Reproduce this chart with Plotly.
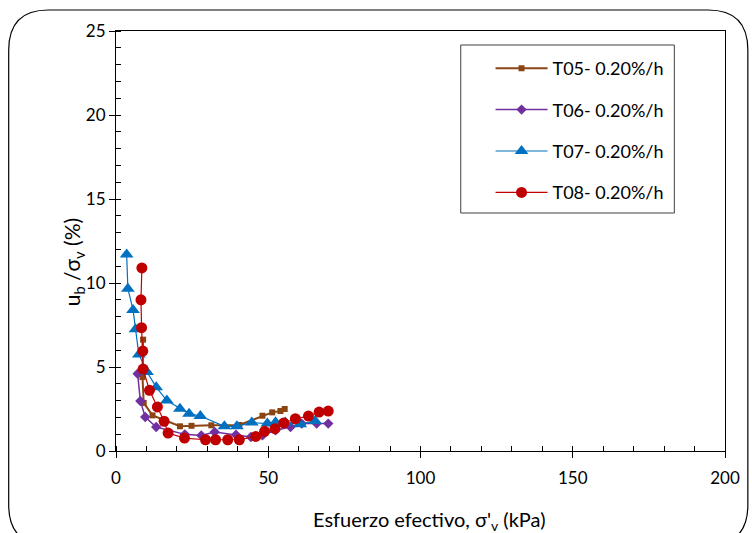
import plotly.graph_objects as go

# ---- data ----
t05_x = [8.9, 8.7, 9.1, 12.0, 21.0, 24.8, 31.3, 40.5, 48.1, 51.3, 54.0, 55.4]
t05_y = [6.63, 4.4, 2.86, 2.12, 1.47, 1.5, 1.53, 1.55, 2.1, 2.3, 2.38, 2.5]

t06_x = [7.1, 8.0, 9.6, 13.2, 22.6, 28.0, 32.4, 39.4, 44.3, 48.1, 52.4, 57.3, 61.0, 65.9, 69.7]
t06_y = [4.6, 2.98, 2.02, 1.43, 0.99, 0.93, 1.13, 0.97, 0.83, 0.93, 1.23, 1.43, 1.63, 1.63, 1.63]

t07_x = [3.5, 3.9, 5.6, 6.4, 7.5, 10.2, 13.2, 16.7, 21.0, 24.0, 27.7, 35.6, 39.7, 44.6, 49.7, 52.4, 55.6, 60.5, 65.4]
t07_y = [11.7, 9.66, 8.4, 7.24, 5.75, 4.7, 3.8, 3.0, 2.52, 2.22, 2.08, 1.47, 1.47, 1.69, 1.63, 1.71, 1.69, 1.59, 1.79]

t08_x = [8.5, 8.2, 8.4, 8.8, 8.9, 11.0, 13.6, 15.8, 17.1, 22.5, 29.4, 32.7, 36.7, 40.5, 45.9, 48.8, 52.2, 55.1, 58.9, 63.2, 66.7, 69.7]
t08_y = [10.9, 9.0, 7.34, 5.95, 4.88, 3.61, 2.62, 1.77, 1.07, 0.77, 0.67, 0.67, 0.67, 0.67, 0.87, 1.17, 1.33, 1.67, 1.92, 2.08, 2.32, 2.38]

names = ["T05- 0.20%/h", "T06- 0.20%/h", "T07- 0.20%/h", "T08- 0.20%/h"]
x_title = "Esfuerzo efectivo, σ'<sub>v</sub> (kPa)"
y_title = "u<sub>b</sub> /σ<sub>v</sub> (%)"

FONT = "Lato"

fig = go.Figure()
fig.add_trace(go.Scatter(x=t05_x, y=t05_y, name=names[0], mode="lines+markers", legendgroup="a",
                         line=dict(color="#8B4513", width=2),
                         marker=dict(symbol="square", size=6, color="#8B4513")))
fig.add_trace(go.Scatter(x=t06_x, y=t06_y, name=names[1], mode="lines+markers", legendgroup="b",
                         line=dict(color="#7030A0", width=1.5),
                         marker=dict(symbol="diamond", size=8, color="#7030A0")))
fig.add_trace(go.Scatter(x=t07_x, y=t07_y, name=names[2], mode="lines+markers", legendgroup="c",
                         line=dict(color="#0070C0", width=1.2),
                         marker=dict(symbol="triangle-up", size=12, color="#0070C0")))
fig.add_trace(go.Scatter(x=t08_x, y=t08_y, name=names[3], mode="lines+markers", legendgroup="d",
                         line=dict(color="#C00000", width=1.2),
                         marker=dict(symbol="circle", size=11, color="#C00000")))

L, R, T, B = 116, 23, 31, 82
W, H = 752, 533
pw, ph = W - L - R, H - T - B

def px(x):
    return (x - L) / pw

def py(y):
    return (H - B - y) / ph

# rounded outer border
x0, x1, y0, y1, r = 8, 752, 10, 545, 40
path = (f"M {px(x0)},{py(y0 + r)} Q {px(x0)},{py(y0)} {px(x0 + r)},{py(y0)} "
        f"L {px(x1 - r)},{py(y0)} Q {px(x1)},{py(y0)} {px(x1)},{py(y0 + r)} "
        f"L {px(x1)},{py(y1 - r)} Q {px(x1)},{py(y1)} {px(x1 - r)},{py(y1)} "
        f"L {px(x0 + r)},{py(y1)} Q {px(x0)},{py(y1)} {px(x0)},{py(y1 - r)} Z")

fig.update_layout(
    width=W, height=H,
    margin=dict(l=L, r=R, t=T, b=B),
    paper_bgcolor="white", plot_bgcolor="white",
    font=dict(family=FONT, size=18, color="#000000"),
    shapes=[
        dict(type="path", xref="paper", yref="paper", path=path,
             line=dict(color="#000000", width=1.2), layer="below"),
        dict(type="rect", xref="paper", yref="paper",
             x0=px(463), x1=px(678), y0=py(213), y1=py(45),
             line=dict(color="#404040", width=1), fillcolor="white", layer="below"),
    ],
    annotations=[
        dict(text=x_title, xref="paper", yref="paper", x=px(432), y=py(520),
             xanchor="center", yanchor="middle", showarrow=False,
             font=dict(family=FONT, size=20)),
        dict(text=y_title, xref="paper", yref="paper", x=px(73), y=py(262),
             xanchor="center", yanchor="middle", showarrow=False, textangle=-90,
             font=dict(family=FONT, size=21)),
    ],
    legend=dict(x=px(493), y=py(50), xanchor="left", yanchor="top",
                borderwidth=0, bgcolor="rgba(0,0,0,0)",
                font=dict(family=FONT, size=18), itemwidth=52,
                tracegroupgap=15),
    showlegend=True,
)

fig.update_xaxes(range=[0, 200], tickvals=[0, 50, 100, 150, 200],
                 showgrid=False, zeroline=False,
                 showline=True, linecolor="#000000", linewidth=1.2, mirror=True,
                 ticks="outside", ticklen=6, tickcolor="#000000", ticklabelstandoff=5,
                 minor=dict(dtick=10, ticks="inside", ticklen=5, tickcolor="#000000"),
                 tickfont=dict(family=FONT, size=17))
fig.update_yaxes(range=[0, 25], tickvals=[0, 5, 10, 15, 20, 25],
                 showgrid=False, zeroline=False,
                 showline=True, linecolor="#000000", linewidth=1.2, mirror=True,
                 ticks="outside", ticklen=6, tickcolor="#000000",
                 minor=dict(dtick=1, ticks="inside", ticklen=5, tickcolor="#000000"),
                 tickfont=dict(family=FONT, size=17))

fig.write_html("out.html", post_script="document.body.style.margin='0';",
               config={"displayModeBar": False})
